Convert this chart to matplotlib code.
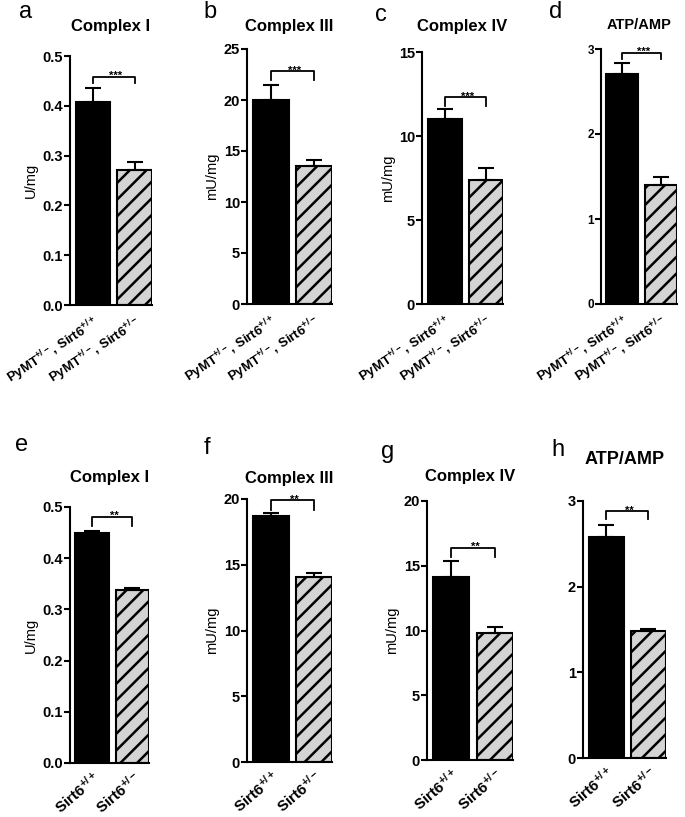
import numpy as np
import matplotlib
matplotlib.use("Agg")
import matplotlib.pyplot as plt

plt.rcParams['font.family'] = ['Liberation Sans', 'DejaVu Sans']
plt.rcParams['mathtext.default'] = 'regular'
plt.rcParams['hatch.linewidth'] = 1.8

# Data
panels = ['a', 'b', 'c', 'd', 'e', 'f', 'g', 'h']
titles = ['Complex I', 'Complex III', 'Complex IV', 'ATP/AMP',
          'Complex I', 'Complex III', 'Complex IV', 'ATP/AMP']
ylabels = ['U/mg', 'mU/mg', 'mU/mg', '', 'U/mg', 'mU/mg', 'mU/mg', '']
ymax = [0.5, 25, 15, 3, 0.5, 20, 20, 3]
ystep = [0.1, 5, 5, 1, 0.1, 5, 5, 1]
wt_mean = [0.408, 20.0, 11.0, 2.70, 0.450, 18.7, 14.1, 2.58]
wt_err = [0.027, 1.5, 0.6, 0.13, 0.004, 0.2, 1.3, 0.14]
het_mean = [0.272, 13.5, 7.4, 1.40, 0.337, 14.1, 9.8, 1.48]
het_err = [0.015, 0.6, 0.7, 0.10, 0.004, 0.25, 0.5, 0.03]
stars = ['***', '***', '***', '***', '**', '**', '**', '**']
bracket_top = [0.458, 22.8, 12.3, 2.95, 0.481, 19.9, 16.4, 2.88]
bracket_end = [0.445, 22.0, 11.8, 2.88, 0.463, 19.2, 15.7, 2.79]
labels_top = [r'PyMT$^{+/-}$, Sirt6$^{+/+}$', r'PyMT$^{+/-}$, Sirt6$^{+/-}$']
labels_bottom = [r'Sirt6$^{+/+}$', r'Sirt6$^{+/-}$']

W, H = 685, 817
fig = plt.figure(figsize=(W / 100, H / 100), dpi=100)

# axes boxes in pixels: x_axis, x_right, y_top, y_bottom
boxes = [(70, 152, 56, 305), (247, 332, 49, 304), (422, 503, 52, 304), (601, 677, 49, 304),
         (70, 149, 507, 763), (247, 332, 499, 762), (427, 513, 501, 760), (583, 666, 501, 758)]
letter_pos = [(26, 12), (210, 12), (381, 15), (556, 12),
              (22, 445), (207, 448), (388, 452), (558, 450)]
title_y = [27, 27, 27, 25, 477, 478, 476, 460]
title_fs = [12, 12, 12, 10.5, 12, 12, 12, 13]

for i in range(8):
    x0, x1, yt, yb = boxes[i]
    ax = fig.add_axes([x0 / W, 1 - yb / H, (x1 - x0) / W, (yb - yt) / H])
    kfs = 8.5 if i == 3 else 10.5

    ax.bar(0, wt_mean[i], width=0.83, color='black', edgecolor='black', linewidth=1.5)
    ax.bar(1, het_mean[i], width=0.83, color='#d4d4d4', edgecolor='black',
           linewidth=1.5, hatch='//')
    ax.errorbar([0, 1], [wt_mean[i], het_mean[i]],
                yerr=[[0, 0], [wt_err[i], het_err[i]]], fmt='none',
                ecolor='black', elinewidth=1.5, capsize=6, capthick=1.5)

    # significance bracket
    ax.plot([0, 0, 1, 1], [bracket_end[i], bracket_top[i], bracket_top[i], bracket_end[i]],
            color='black', lw=1.3, clip_on=False)
    ax.annotate(stars[i], (0.55, bracket_top[i]), xytext=(0, -1.5),
                textcoords='offset points', ha='center', va='baseline',
                fontsize=8, fontweight='bold')

    ax.set_xlim(-0.55, 1.42)
    ax.set_ylim(0, ymax[i])
    ticks = np.arange(0, ymax[i] + ystep[i] / 2, ystep[i])
    ax.set_yticks(ticks)
    if ystep[i] < 1:
        ax.set_yticklabels(['%.1f' % t for t in ticks])
    else:
        ax.set_yticklabels(['%d' % t for t in ticks])
    for s in ['top', 'right']:
        ax.spines[s].set_visible(False)
    for s in ['left', 'bottom']:
        ax.spines[s].set_linewidth(1.5)
    ax.tick_params(axis='y', width=1.5, length=4, labelsize=kfs, pad=1)
    for lab in ax.get_yticklabels():
        lab.set_fontweight('bold')
    ax.set_ylabel(ylabels[i], fontsize=10.5, labelpad=3)

    ax.set_xticks([0, 1])
    if i < 4:
        ax.set_xticklabels(labels_top, rotation=33, ha='right', va='top',
                           rotation_mode='anchor', fontsize=9.5, fontweight='bold')
        ax.tick_params(axis='x', length=0, pad=6)
    else:
        ax.set_xticklabels(labels_bottom, rotation=40, ha='right', va='top',
                           rotation_mode='anchor', fontsize=11, fontweight='bold')
        ax.tick_params(axis='x', length=0, pad=4)

    fig.text((x0 + x1) / 2 / W, 1 - title_y[i] / H, titles[i], ha='center', va='center',
             fontsize=title_fs[i], fontweight='bold')
    lx, ly = letter_pos[i]
    fig.text(lx / W, 1 - ly / H, panels[i], ha='center', va='center', fontsize=17)

fig.savefig('out.png', dpi=100)
